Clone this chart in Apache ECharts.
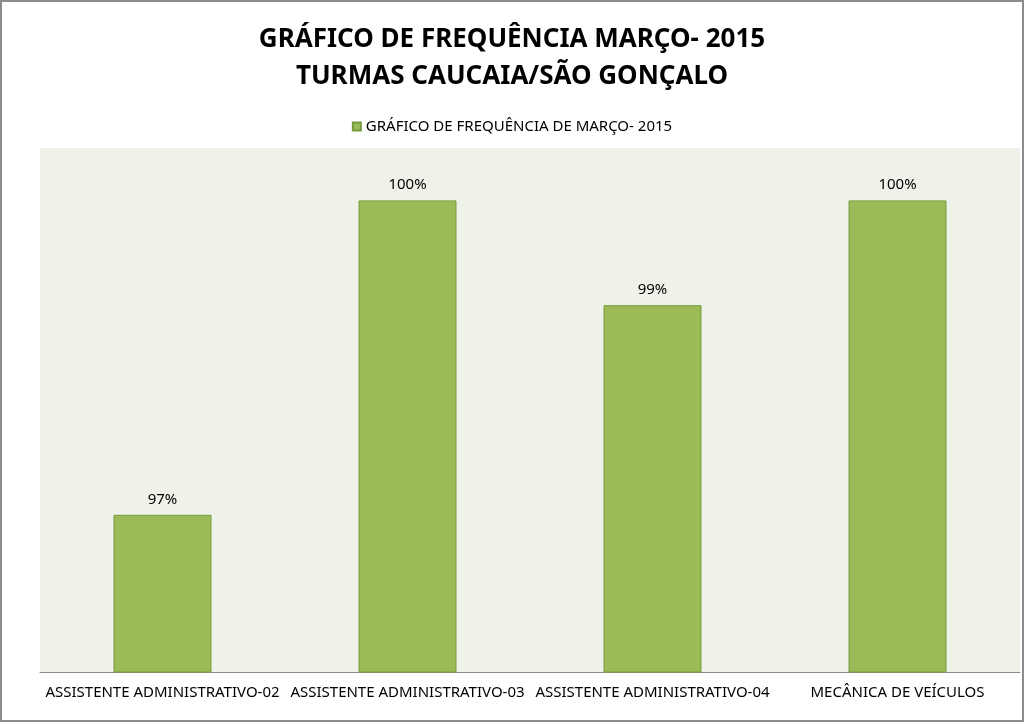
<!DOCTYPE html>
<html><head><meta charset="utf-8">
<script src="https://cdn.jsdelivr.net/npm/echarts@6/dist/echarts.min.js"></script>
<style>html,body{margin:0;padding:0;background:#fff}#c{width:1024px;height:722px;box-sizing:border-box;border:2px solid #8c8c8c}</style>
</head><body><div id="c"></div>
<script>
const categories = ["ASSISTENTE ADMINISTRATIVO-02","ASSISTENTE ADMINISTRATIVO-03","ASSISTENTE ADMINISTRATIVO-04","MECÂNICA DE VEÍCULOS"];
const values = [97, 100, 99, 100];
const seriesName = "GRÁFICO DE FREQUÊNCIA DE MARÇO- 2015";
const titleText = "GRÁFICO DE FREQUÊNCIA MARÇO- 2015\nTURMAS CAUCAIA/SÃO GONÇALO";
const font = "'Noto Sans',sans-serif";
const chart = echarts.init(document.getElementById('c'), null, {renderer:'canvas'});
chart.setOption({
  animation:false,
  backgroundColor:'#ffffff',
  title:{text:titleText,left:'center',top:14,textStyle:{fontFamily:font,fontWeight:'bold',fontSize:26,lineHeight:37,color:'#000'}},
  legend:{top:112,left:'center',itemWidth:8,itemHeight:8,itemGap:5,icon:'rect',textStyle:{fontFamily:font,fontSize:15,color:'#000'},data:[seriesName]},
  grid:{left:38,right:2,top:146,bottom:48,show:true,backgroundColor:'#EFF2E9',borderWidth:0},
  xAxis:{type:'category',data:categories,axisLine:{lineStyle:{color:'#8c8c8c'}},axisTick:{show:false},
    axisLabel:{fontFamily:font,fontSize:15,color:'#000',margin:13,interval:0}},
  yAxis:{type:'value',min:95.5,max:100.5,show:false,splitLine:{show:false}},
  series:[{name:seriesName,type:'bar',data:values,barWidth:'40%',
    itemStyle:{color:'#9BBB59',borderColor:'#779B3D',borderWidth:1},
    label:{show:true,position:'top',distance:8,fontFamily:font,fontSize:15,color:'#000',formatter:p=>Math.round(p.value)+'%'}}]
});
</script></body></html>
